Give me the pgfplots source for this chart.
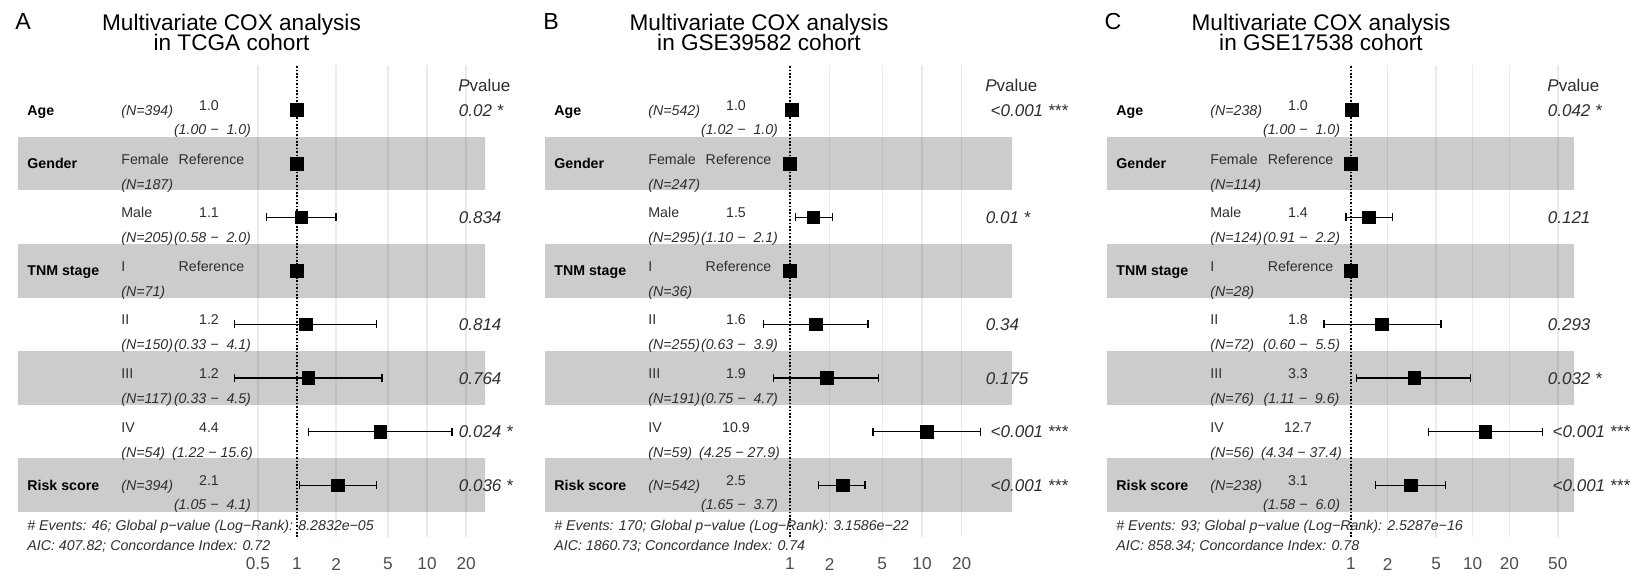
\documentclass[border=0pt]{standalone}
\usepackage{pgfplots}
\pgfplotsset{compat=1.18}
\usepackage{pgfplotstable}
\usepackage{fontspec}
\setmainfont{Liberation Sans}
\definecolor{txt}{HTML}{2E2E2E}
\definecolor{gridc}{HTML}{EBEBEB}
\definecolor{tickc}{HTML}{4D4D4D}
\newcommand{\fs}[1]{\fontsize{#1}{#1}\selectfont}

% row: 1 Age, 2 Gender Female, 3 Male, 4 TNM I, 5 II, 6 III, 7 IV, 8 Risk score
\pgfplotstableread{
row hr   lo   hi
1   1.00 1.00 1.00
2   1.00 1.00 1.00
3   1.08 0.58 2.0
4   1.00 1.00 1.00
5   1.17 0.33 4.1
6   1.22 0.33 4.5
7   4.37 1.22 15.6
8   2.07 1.05 4.1
}\dataA
\pgfplotstableread{
row hr   lo   hi
1   1.03 1.02 1.04
2   1.00 1.00 1.00
3   1.50 1.10 2.1
4   1.00 1.00 1.00
5   1.57 0.63 3.9
6   1.90 0.75 4.7
7   10.9 4.25 27.9
8   2.50 1.65 3.7
}\dataB
\pgfplotstableread{
row hr   lo   hi
1   1.01 1.00 1.02
2   1.00 1.00 1.00
3   1.40 0.91 2.2
4   1.00 1.00 1.00
5   1.80 0.60 5.5
6   3.30 1.11 9.6
7   12.7 4.34 37.4
8   3.10 1.58 6.0
}\dataC

\tikzset{
  myband/.style={fill=black, fill opacity=0.2, draw=none},
  myref/.style={black, line width=0.6pt, dash pattern=on 0.8pt off 0.9pt},
  mywhisk/.style={black, line width=0.65pt, mark=|, mark size=2pt, mark options={solid, line width=0.65pt}},
  mysq/.style={mark=square*, mark size=3.15pt, mark options={fill=black, draw=black, line width=0.3pt}},
  nm/.style={anchor=base west, font=\fs{7.1}\bfseries, inner sep=0pt, text=black},
  lv/.style={anchor=base west, font=\fs{7.1}, inner sep=0pt, text=txt},
  nn/.style={anchor=base west, font=\fs{7.1}\itshape, inner sep=0pt, text=txt},
  hrs/.style={anchor=base, font=\fs{7.1}, inner sep=0pt, text=txt},
  cis/.style={anchor=base, font=\fs{7.1}\itshape, inner sep=0pt, text=txt},
  pv/.style={anchor=base west, font=\fs{8.5}\itshape, inner sep=0pt, text=txt},
  ft/.style={anchor=base west, font=\fs{7.1}\itshape, inner sep=0pt, text=txt},
  ttl/.style={anchor=base, font=\fs{11.3}, inner sep=0pt, text=black},
  plet/.style={anchor=base, font=\fs{11.6}, inner sep=0pt, text=black}
}

% continuous row: y, name, N, HR, CI, p
\newcommand{\controw}[6]{%
  \node[nm] at (9,{#1+5}) {#2};
  \node[nn] at (103,{#1+5}) {#3};
  \node[hrs] at (191,{#1+0.5}) {#4};
  \node[cis] at (194.5,{#1+24.5}) {#5};
  \node[pv] at (440.5,{#1+6}) {#6};}
% reference row: y, name, level, N
\newcommand{\refrow}[4]{%
  \node[nm] at (9,{#1+5}) {#2};
  \node[lv] at (103,{#1+0.5}) {#3};
  \node[hrs] at (193.5,{#1+0.5}) {Reference};
  \node[nn] at (103,{#1+25.5}) {#4};}
% level row: y, level, HR, N, CI, p
\newcommand{\levrow}[6]{%
  \node[lv] at (103,{#1+0.5}) {#2};
  \node[hrs] at (191,{#1+0.5}) {#3};
  \node[nn] at (103,{#1+25.5}) {#4};
  \node[cis] at (194.5,{#1+25.5}) {#5};
  \node[pv] at (440.5,{#1+6}) {#6};}
\newcommand{\pvhead}{\node[pv, font=\fs{8.5}] at (440,91) {\textit{P}value};}
\newcommand{\ltsym}{\hspace{2.4pt}<}

\begin{document}
\begin{tikzpicture}
\path[use as bounding box] (0pt,0pt) rectangle (819.5pt,-287pt);

% ---------------- Panel A ----------------
\begin{axis}[xmode=log, anchor=south west, at={(9pt,-268.5pt)},
  scale only axis, width=233.5pt, height=236pt,
  ymin=-8.966, ymax=-0.16, xmin=0.007142, xmax=27.94,
  ytick=\empty, axis line style={draw=none}, tick style={draw=none},
  major tick length=0pt,
  xmajorgrids, major grid style={draw=gridc, line width=0.75pt},
  xticklabel style={anchor=center, yshift=-13.5pt, font=\fs{8.6}, text=tickc},
  xtick={0.5,1,2,5,10,20}, xticklabels={0.5,1,2,5,10,20}]
  \addplot[myband] coordinates {(1e-3,-1.5) (1e3,-1.5) (1e3,-2.5) (1e-3,-2.5)};
  \addplot[myband] coordinates {(1e-3,-3.5) (1e3,-3.5) (1e3,-4.5) (1e-3,-4.5)};
  \addplot[myband] coordinates {(1e-3,-5.5) (1e3,-5.5) (1e3,-6.5) (1e-3,-6.5)};
  \addplot[myband] coordinates {(1e-3,-7.5) (1e3,-7.5) (1e3,-8.5) (1e-3,-8.5)};
  \addplot[myref] coordinates {(1,-8.966) (1,-0.16)};
  \addplot[mywhisk, unbounded coords=jump] coordinates {(0.58,-3) (2.0,-3) (nan,nan) (0.33,-5) (4.1,-5) (nan,nan) (0.33,-6) (4.5,-6) (nan,nan) (1.22,-7) (15.6,-7) (nan,nan) (1.05,-8) (4.1,-8)};
  \addplot[mysq, only marks] table[x=hr, y expr=-\thisrow{row}] {\dataA};
\end{axis}

% ---------------- Panel B ----------------
\begin{axis}[xmode=log, anchor=south west, at={(272.5pt,-268.5pt)},
  scale only axis, width=233.5pt, height=236pt,
  ymin=-8.966, ymax=-0.16, xmin=0.01393, xmax=48.07,
  ytick=\empty, axis line style={draw=none}, tick style={draw=none},
  major tick length=0pt,
  xmajorgrids, major grid style={draw=gridc, line width=0.75pt},
  xticklabel style={anchor=center, yshift=-13.5pt, font=\fs{8.6}, text=tickc},
  xtick={1,2,5,10,20}, xticklabels={1,2,5,10,20}]
  \addplot[myband] coordinates {(1e-3,-1.5) (1e3,-1.5) (1e3,-2.5) (1e-3,-2.5)};
  \addplot[myband] coordinates {(1e-3,-3.5) (1e3,-3.5) (1e3,-4.5) (1e-3,-4.5)};
  \addplot[myband] coordinates {(1e-3,-5.5) (1e3,-5.5) (1e3,-6.5) (1e-3,-6.5)};
  \addplot[myband] coordinates {(1e-3,-7.5) (1e3,-7.5) (1e3,-8.5) (1e-3,-8.5)};
  \addplot[myref] coordinates {(1,-8.966) (1,-0.16)};
  \addplot[mywhisk, unbounded coords=jump] coordinates {(1.10,-3) (2.1,-3) (nan,nan) (0.63,-5) (3.9,-5) (nan,nan) (0.75,-6) (4.7,-6) (nan,nan) (4.25,-7) (27.9,-7) (nan,nan) (1.65,-8) (3.7,-8)};
  \addplot[mysq, only marks] table[x=hr, y expr=-\thisrow{row}] {\dataB};
\end{axis}

% ---------------- Panel C ----------------
\begin{axis}[xmode=log, anchor=south west, at={(553.5pt,-268.5pt)},
  scale only axis, width=233.5pt, height=236pt,
  ymin=-8.966, ymax=-0.16, xmin=0.009888, xmax=68.0,
  ytick=\empty, axis line style={draw=none}, tick style={draw=none},
  major tick length=0pt,
  xmajorgrids, major grid style={draw=gridc, line width=0.75pt},
  xticklabel style={anchor=center, yshift=-13.5pt, font=\fs{8.6}, text=tickc},
  xtick={1,2,5,10,20,50}, xticklabels={1,2,5,10,20,50}]
  \addplot[myband] coordinates {(1e-3,-1.5) (1e3,-1.5) (1e3,-2.5) (1e-3,-2.5)};
  \addplot[myband] coordinates {(1e-3,-3.5) (1e3,-3.5) (1e3,-4.5) (1e-3,-4.5)};
  \addplot[myband] coordinates {(1e-3,-5.5) (1e3,-5.5) (1e3,-6.5) (1e-3,-6.5)};
  \addplot[myband] coordinates {(1e-3,-7.5) (1e3,-7.5) (1e3,-8.5) (1e-3,-8.5)};
  \addplot[myref] coordinates {(1,-8.966) (1,-0.16)};
  \addplot[mywhisk, unbounded coords=jump] coordinates {(0.91,-3) (2.2,-3) (nan,nan) (0.60,-5) (5.5,-5) (nan,nan) (1.11,-6) (9.6,-6) (nan,nan) (4.34,-7) (37.4,-7) (nan,nan) (1.58,-8) (6.0,-8)};
  \addplot[mysq, only marks] table[x=hr, y expr=-\thisrow{row}] {\dataC};
\end{axis}

% ---------------- Texts ----------------
\begin{scope}[x=0.5pt,y=-0.5pt,shift={(18,0)}]
  \node[plet] at (5,29.3) {A};
  \node[ttl] at (213.5,30) {Multivariate COX analysis};
  \node[ttl] at (213.5,50) {in TCGA cohort};
  \pvhead
  \controw{110}{Age}{(N=394)}{1.0}{(1.00 −\ \ 1.0)}{0.02 *}
  \refrow{163.6}{Gender}{Female}{(N=187)}
  \levrow{217.2}{Male}{1.1}{(N=205)}{(0.58 −\ \ 2.0)}{0.834}
  \refrow{270.8}{TNM stage}{I}{(N=71)}
  \levrow{324.4}{II}{1.2}{(N=150)}{(0.33 −\ \ 4.1)}{0.814}
  \levrow{378}{III}{1.2}{(N=117)}{(0.33 −\ \ 4.5)}{0.764}
  \levrow{431.6}{IV}{4.4}{(N=54)}{(1.22 − 15.6)}{0.024 *}
  \controw{485.2}{Risk score}{(N=394)}{2.1}{(1.05 −\ \ 4.1)}{0.036 *}
  \node[ft] at (9,530) {\# Events: 46; Global p−value (Log−Rank): 8.2832e−05};
  \node[ft] at (9,550) {AIC: 407.82; Concordance Index: 0.72};
\end{scope}

\begin{scope}[x=0.5pt,y=-0.5pt,shift={(545,0)}]
  \node[plet] at (6,29.3) {B};
  \node[ttl] at (214,30) {Multivariate COX analysis};
  \node[ttl] at (214,50) {in GSE39582 cohort};
  \pvhead
  \controw{110}{Age}{(N=542)}{1.0}{(1.02 −\ \ 1.0)}{\ltsym0.001 ***}
  \refrow{163.6}{Gender}{Female}{(N=247)}
  \levrow{217.2}{Male}{1.5}{(N=295)}{(1.10 −\ \ 2.1)}{0.01 *}
  \refrow{270.8}{TNM stage}{I}{(N=36)}
  \levrow{324.4}{II}{1.6}{(N=255)}{(0.63 −\ \ 3.9)}{0.34}
  \levrow{378}{III}{1.9}{(N=191)}{(0.75 −\ \ 4.7)}{0.175}
  \levrow{431.6}{IV}{10.9}{(N=59)}{(4.25 − 27.9)}{\ltsym0.001 ***}
  \controw{485.2}{Risk score}{(N=542)}{2.5}{(1.65 −\ \ 3.7)}{\ltsym0.001 ***}
  \node[ft] at (9,530) {\# Events: 170; Global p−value (Log−Rank): 3.1586e−22};
  \node[ft] at (9,550) {AIC: 1860.73; Concordance Index: 0.74};
\end{scope}

\begin{scope}[x=0.5pt,y=-0.5pt,shift={(1107,0)}]
  \node[plet] at (6,29.3) {C};
  \node[ttl] at (214,30) {Multivariate COX analysis};
  \node[ttl] at (214,50) {in GSE17538 cohort};
  \pvhead
  \controw{110}{Age}{(N=238)}{1.0}{(1.00 −\ \ 1.0)}{0.042 *}
  \refrow{163.6}{Gender}{Female}{(N=114)}
  \levrow{217.2}{Male}{1.4}{(N=124)}{(0.91 −\ \ 2.2)}{0.121}
  \refrow{270.8}{TNM stage}{I}{(N=28)}
  \levrow{324.4}{II}{1.8}{(N=72)}{(0.60 −\ \ 5.5)}{0.293}
  \levrow{378}{III}{3.3}{(N=76)}{(1.11 −\ \ 9.6)}{0.032 *}
  \levrow{431.6}{IV}{12.7}{(N=56)}{(4.34 − 37.4)}{\ltsym0.001 ***}
  \controw{485.2}{Risk score}{(N=238)}{3.1}{(1.58 −\ \ 6.0)}{\ltsym0.001 ***}
  \node[ft] at (9,530) {\# Events: 93; Global p−value (Log−Rank): 2.5287e−16};
  \node[ft] at (9,550) {AIC: 858.34; Concordance Index: 0.78};
\end{scope}
\end{tikzpicture}
\end{document}
